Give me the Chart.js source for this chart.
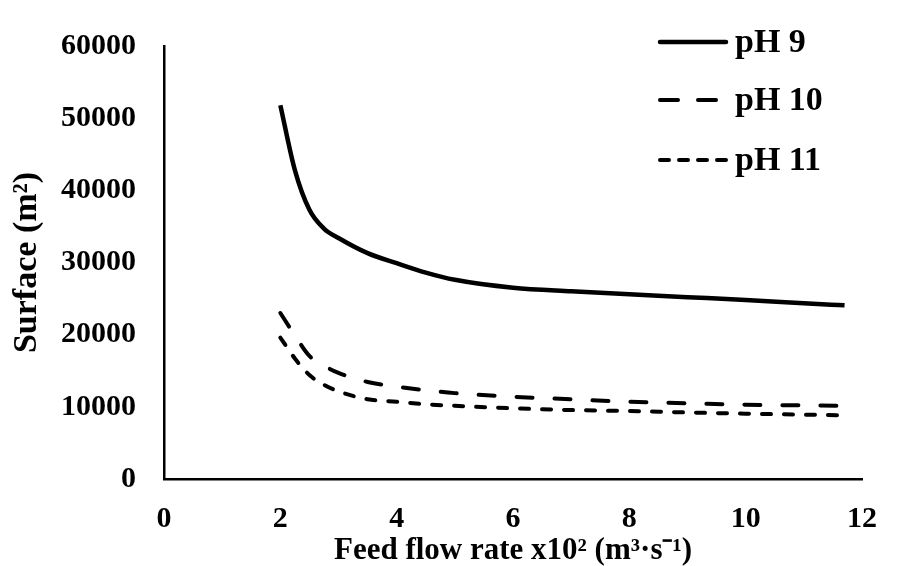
<!DOCTYPE html>
<html lang="en">
<head>
    <meta charset="UTF-8">
    <title>Surface vs feed flow rate</title>
    <script src="https://cdn.jsdelivr.net/npm/chart.js"></script>
    <style>
        body { margin: 0; background: #fff; }
    </style>
</head>
<body>
    <canvas id="surfaceChart" width="899" height="566"></canvas>

    <script>
const flowRate = [2, 2.25, 2.5, 2.75, 3, 3.5, 4, 4.5, 5, 6, 7, 8, 9, 10, 11, 11.7];
const ph9  = [51800, 42800, 37300, 34700, 33400, 31300, 29900, 28600, 27600, 26500, 26000, 25600, 25200, 24800, 24350, 24060];
const ph10 = [23000, 19900, 17050, 15700, 14700, 13450, 12800, 12300, 11900, 11400, 11050, 10700, 10500, 10300, 10200, 10150];
const ph11 = [19600, 16700, 14400, 13050, 12150, 11050, 10700, 10350, 10150, 9800, 9550, 9420, 9220, 9050, 8920, 8820];
const xTicks = [0, 2, 4, 6, 8, 10, 12];
const yTicks = [0, 10000, 20000, 30000, 40000, 50000, 60000];

const serif = "'Liberation Serif', 'Times New Roman', serif";
const toPoints = vals => vals.map((v, i) => ({ x: flowRate[i], y: v }));

// legend drawn inside the plot, top right
const insideLegend = {
    id: 'insideLegend',
    afterDraw(chart) {
        const ctx = chart.ctx;
        const rows = [42, 100, 160];
        chart.data.datasets.forEach((ds, i) => {
            ctx.save();
            ctx.strokeStyle = '#000';
            ctx.lineWidth = ds.borderWidth;
            ctx.lineCap = 'round';
            ctx.setLineDash(ds.legendDash || []);
            ctx.beginPath();
            ctx.moveTo(660, rows[i]);
            ctx.lineTo(726, rows[i]);
            ctx.stroke();
            ctx.setLineDash([]);
            ctx.fillStyle = '#000';
            ctx.font = 'bold 34px ' + serif;
            ctx.textBaseline = 'middle';
            ctx.fillText(ds.label, 735, rows[i] + 1);
            ctx.restore();
        });
    }
};

const ctx = document.getElementById('surfaceChart').getContext('2d');

new Chart(ctx, {
    type: 'line',
    data: {
        datasets: [
            {
                label: 'pH 9',
                data: toPoints(ph9),
                borderColor: '#000',
                borderWidth: 4.5,
                pointRadius: 0,
                cubicInterpolationMode: 'monotone',
            },
            {
                label: 'pH 10',
                data: toPoints(ph10),
                borderColor: '#000',
                borderWidth: 4,
                borderDash: [16, 22],
                legendDash: [18, 20],
                borderCapStyle: 'round',
                pointRadius: 0,
                cubicInterpolationMode: 'monotone',
            },
            {
                label: 'pH 11',
                data: toPoints(ph11),
                borderColor: '#000',
                borderWidth: 4,
                borderDash: [9, 13],
                legendDash: [9, 10],
                borderCapStyle: 'round',
                pointRadius: 0,
                cubicInterpolationMode: 'monotone',
            },
        ],
    },
    options: {
        responsive: false,
        animation: false,
        layout: { padding: { top: 25, right: 16, left: 0, bottom: 0 } },
        plugins: {
            legend: { display: false },
            tooltip: { enabled: false },
        },
        scales: {
            x: {
                type: 'linear',
                min: 0,
                max: 12,
                afterFit: s => { s.height = 87; },
                afterBuildTicks: s => { s.ticks = xTicks.map(v => ({ value: v })); },
                border: { color: '#000', width: 2.5 },
                grid: { display: false, drawTicks: false },
                ticks: {
                    color: '#000',
                    padding: 22,
                    maxRotation: 0,
                    callback: v => String(v),
                    font: { family: serif, size: 30, weight: 'bold' },
                },
                title: {
                    display: true,
                    text: 'Feed flow rate x10² (m³·s⁻¹)',
                    color: '#000',
                    padding: { top: 0, bottom: 0 },
                    font: { family: serif, size: 31, weight: 'bold', lineHeight: 1 },
                },
            },
            y: {
                min: 0,
                max: 60000,
                afterFit: s => { s.width = 164; },
                afterBuildTicks: s => { s.ticks = yTicks.map(v => ({ value: v })); },
                border: { color: '#000', width: 2.5 },
                grid: { display: false, drawTicks: false },
                ticks: {
                    color: '#000',
                    padding: 28,
                    callback: v => String(v),
                    font: { family: serif, size: 30, weight: 'bold' },
                },
                title: {
                    display: true,
                    text: 'Surface (m²)',
                    color: '#000',
                    padding: { top: 7, bottom: 0 },
                    font: { family: serif, size: 34, weight: 'bold' },
                },
            },
        },
    },
    plugins: [insideLegend],
});
    </script>
</body>
</html>
